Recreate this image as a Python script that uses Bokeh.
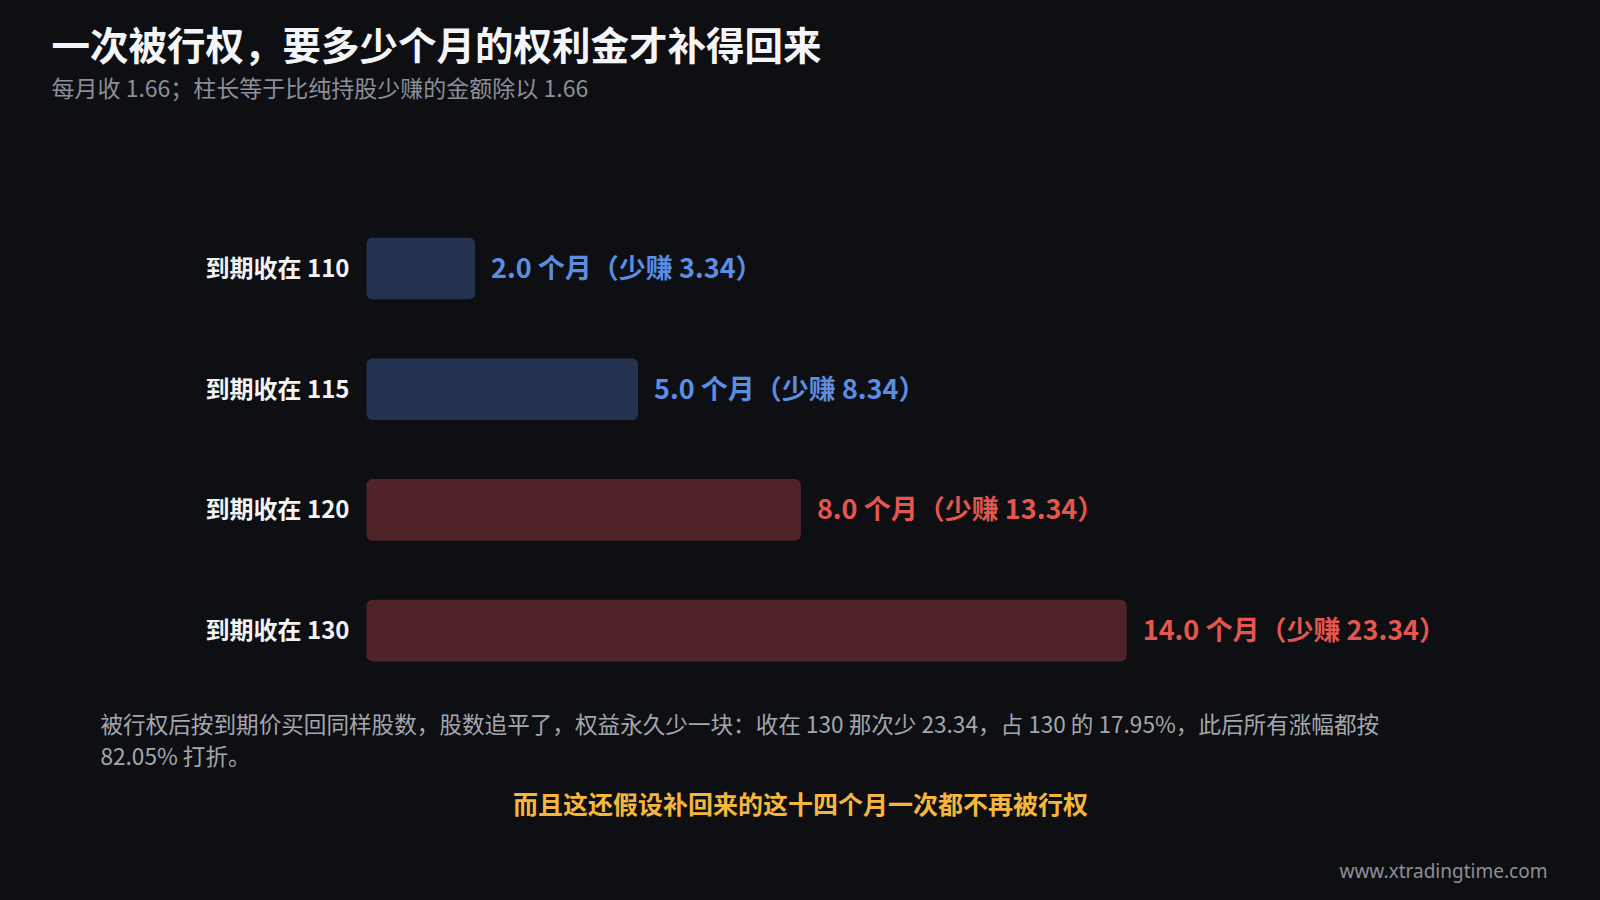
from bokeh.plotting import figure
from bokeh.models import ColumnDataSource, Range1d, Label
from bokeh.core.properties import value
from bokeh.embed import file_html
from bokeh.resources import INLINE

# ---- data ----
categories = ["到期收在 110", "到期收在 115", "到期收在 120", "到期收在 130"]
months = [2.0, 5.0, 8.0, 14.0]
shortfall = [3.34, 8.34, 13.34, 23.34]
bar_colors = ["#243350", "#243350", "#4f2327", "#4f2327"]
text_colors = ["#5b8ee3", "#5b8ee3", "#e5564f", "#e5564f"]

title_text = "一次被行权，要多少个月的权利金才补得回来"
subtitle_text = "每月收 1.66；柱长等于比纯持股少赚的金额除以 1.66"
note_line1 = "被行权后按到期价买回同样股数，股数追平了，权益永久少一块：收在 130 那次少 23.34，占 130 的 17.95%，此后所有涨幅都按"
note_line2 = "82.05% 打折。"
highlight_text = "而且这还假设补回来的这十四个月一次都不再被行权"
watermark_text = "www.xtradingtime.com"

labels = [f"{m:.1f} 个月（少赚 {s:.2f}）" for m, s in zip(months, shortfall)]
rows = list(range(len(categories)))
zeros = [0] * len(categories)

BG = "#0e0f13"
FONT = value("Noto Sans CJK SC")

src = ColumnDataSource(dict(row=rows, cat=categories, zero=zeros, months=months,
                            label=labels, bar_color=bar_colors, text_color=text_colors))

W, H = 1584, 884
PX_PER_MONTH = 54.3
ROW_PX = 120.7
X0, Y0 = 366, 268  # page position of month 0 / first row centre
p = figure(width=W, height=H, output_backend="svg", toolbar_location=None,
           x_range=Range1d(-X0 / PX_PER_MONTH, (W - X0) / PX_PER_MONTH),
           y_range=Range1d((H - Y0) / ROW_PX, -Y0 / ROW_PX),
           min_border=0, min_border_left=0, min_border_right=0,
           min_border_top=0, min_border_bottom=0)
p.background_fill_color = BG
p.border_fill_color = BG
p.outline_line_color = None
p.grid.visible = False
p.xaxis.visible = False
p.yaxis.visible = False

p.hbar(y="row", left=0, right="months", height=0.51, source=src,
       fill_color="bar_color", line_color=None, border_radius=6)
# value labels
p.text(x="months", y="row", text="label", source=src, x_offset=16, y_offset=-2,
       text_baseline="middle", text_align="left", text_color="text_color",
       text_font=FONT, text_font_size="27px", text_font_style="bold")
# category labels
p.text(x="zero", y="row", text="cat", source=src, x_offset=-17, y_offset=-2,
       text_baseline="middle", text_align="right", text_color="#f2f3f5",
       text_font=FONT, text_font_size="24px", text_font_style="bold")

def add_label(txt, x, y_top, size, color, style="normal", align="left", font="Noto Sans CJK SC"):
    p.add_layout(Label(x=x, y=H - y_top, x_units="screen", y_units="screen", text=txt,
                       text_font=font, text_font_size=size, text_color=color,
                       text_font_style=style, text_align=align, text_baseline="middle"))

add_label(title_text, 51, 42, "38.5px", "#f4f5f7", "bold")
add_label(subtitle_text, 51, 86, "23px", "#8b9099")
add_label(note_line1, 100, 723, "22.6px", "#a3a7ae")
add_label(note_line2, 100, 755, "22.6px", "#a3a7ae")
add_label(highlight_text, 800, 802, "25px", "#f5b73b", "bold", "center")
add_label(watermark_text, 1339, 870, "19px", "#8e9096", "normal", "left", "Noto Sans")

html = file_html(p, INLINE)
html = html.replace("</head>", "<style>html,body{background:%s;}</style></head>" % BG, 1)
open("out.html", "w").write(html)
